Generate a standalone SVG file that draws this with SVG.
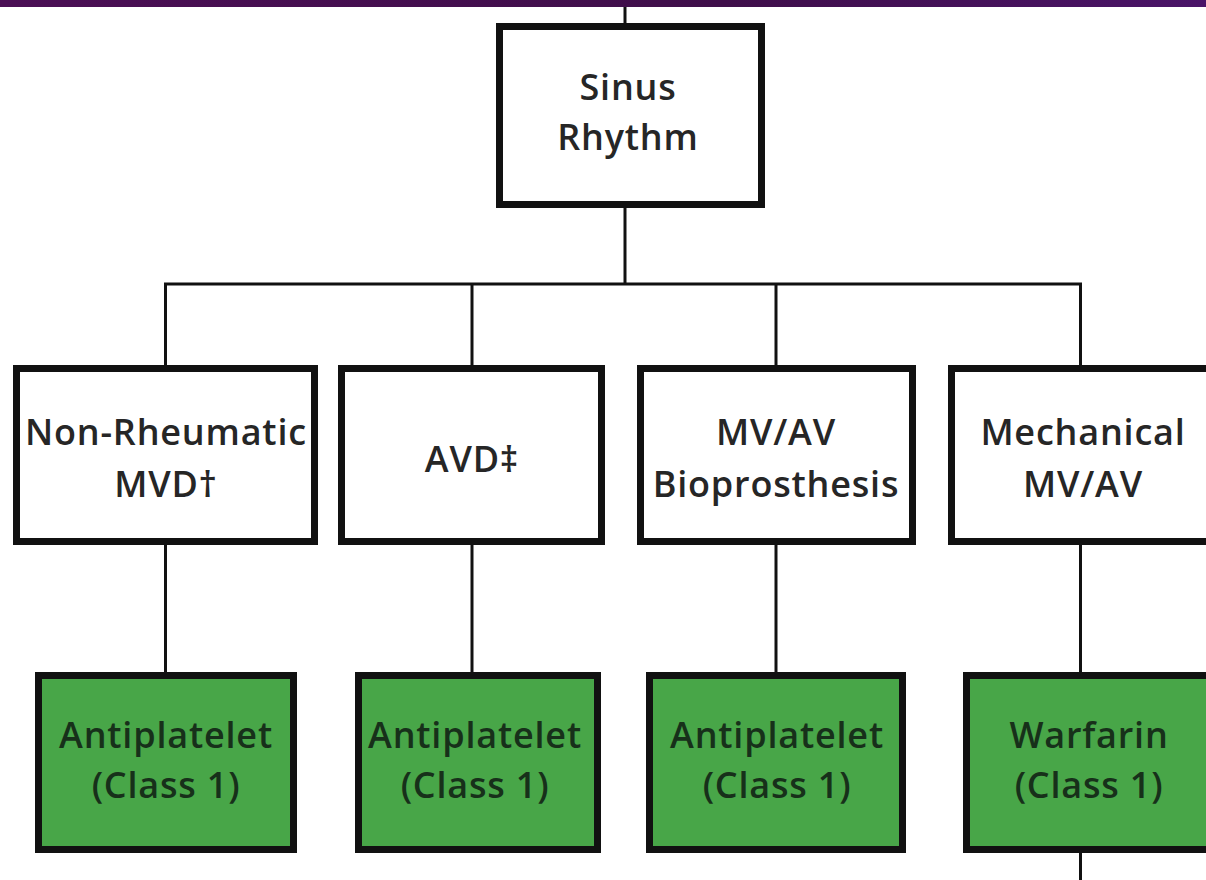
<svg xmlns="http://www.w3.org/2000/svg" width="1206" height="880" viewBox="0 0 1206 880">
<defs>
<linearGradient id="band" x1="0" y1="0" x2="1" y2="0">
<stop offset="0" stop-color="#4b0f55"/>
<stop offset="0.6" stop-color="#3f0e4a"/>
<stop offset="1" stop-color="#4a1468"/>
</linearGradient>
</defs>
<style>
.box{fill:#ffffff;stroke:#111111;stroke-width:7}
.green{fill:#48a648;stroke:#111111;stroke-width:7}
.t{font-family:"Open Sans","Liberation Sans",sans-serif;font-weight:600;font-size:36px;letter-spacing:0.8px;fill:#262626;text-anchor:middle}
.g{fill:#17301a}
.c{stroke:#111111;stroke-width:3;fill:none}
</style>
<rect x="0" y="0" width="1206" height="880" fill="#ffffff"/>
<rect x="0" y="0" width="1206" height="7" fill="url(#band)"/>
<g id="connectors">
<line class="c" x1="625" y1="7" x2="625" y2="26"/>
<line class="c" x1="625" y1="205" x2="625" y2="284"/>
<line class="c" x1="164" y1="284" x2="1082" y2="284"/>
<line class="c" x1="165.5" y1="284" x2="165.5" y2="368"/>
<line class="c" x1="472" y1="284" x2="472" y2="368"/>
<line class="c" x1="776" y1="284" x2="776" y2="368"/>
<line class="c" x1="1080.5" y1="284" x2="1080.5" y2="368"/>
<line class="c" x1="165.5" y1="542" x2="165.5" y2="675"/>
<line class="c" x1="472" y1="542" x2="472" y2="675"/>
<line class="c" x1="776" y1="542" x2="776" y2="675"/>
<line class="c" x1="1080.5" y1="542" x2="1080.5" y2="675"/>
<line class="c" x1="1080.5" y1="850" x2="1080.5" y2="880"/>
</g>
<g id="sinus">
<rect class="box" x="499.5" y="26.5" width="262" height="178"/>
<text class="t" x="628" y="100">Sinus</text>
<text class="t" x="628" y="150">Rhythm</text>
</g>
<g id="nonrheumatic">
<rect class="box" x="16.5" y="368.5" width="298" height="173"/>
<text class="t" x="166" y="445">Non-Rheumatic</text>
<text class="t" x="166" y="497">MVD†</text>
</g>
<g id="avd">
<rect class="box" x="341.5" y="368.5" width="260" height="173"/>
<text class="t" x="472" y="472">AVD‡</text>
</g>
<g id="bioprosthesis">
<rect class="box" x="640.5" y="368.5" width="272" height="173"/>
<text class="t" x="776" y="445">MV/AV</text>
<text class="t" x="776" y="497">Bioprosthesis</text>
</g>
<g id="mechanical">
<rect class="box" x="951.5" y="368.5" width="270" height="173"/>
<text class="t" x="1083" y="445">Mechanical</text>
<text class="t" x="1083" y="497">MV/AV</text>
</g>
<g id="anti1">
<rect class="green" x="38.5" y="675.5" width="255" height="174"/>
<text class="t g" x="166" y="748">Antiplatelet</text>
<text class="t g" x="166" y="798">(Class 1)</text>
</g>
<g id="anti2">
<rect class="green" x="358.5" y="675.5" width="239" height="174"/>
<text class="t g" x="475" y="748">Antiplatelet</text>
<text class="t g" x="475" y="798">(Class 1)</text>
</g>
<g id="anti3">
<rect class="green" x="649.5" y="675.5" width="253" height="174"/>
<text class="t g" x="777" y="748">Antiplatelet</text>
<text class="t g" x="777" y="798">(Class 1)</text>
</g>
<g id="warfarin">
<rect class="green" x="966.5" y="675.5" width="260" height="174"/>
<text class="t g" x="1089" y="748">Warfarin</text>
<text class="t g" x="1089" y="798">(Class 1)</text>
</g>
</svg>
